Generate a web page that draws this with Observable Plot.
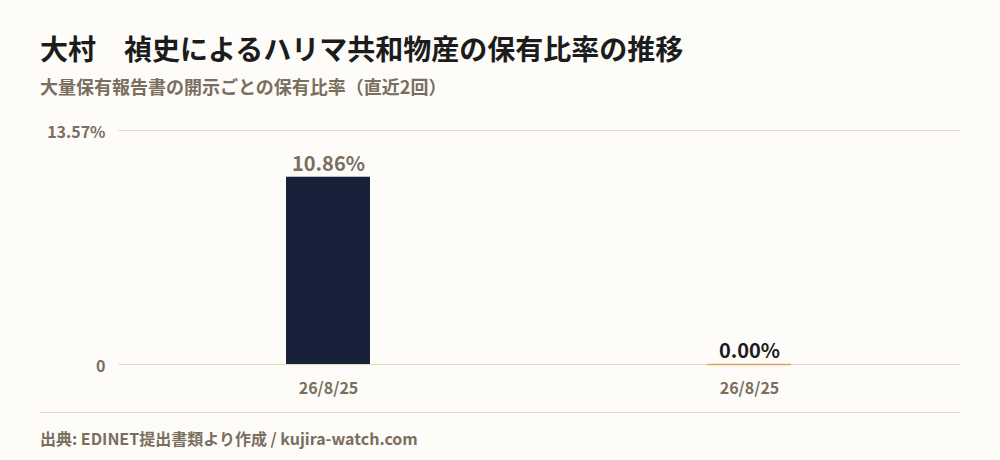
<!DOCTYPE html>
<html lang="ja">
<head>
<meta charset="utf-8">
<script src="https://cdn.jsdelivr.net/npm/d3@7"></script>
<script src="https://cdn.jsdelivr.net/npm/@observablehq/plot@0.6"></script>
<style>
  html, body { margin: 0; padding: 0; background: #fdfcf8; }
  body { width: 1000px; height: 460px; position: relative; overflow: hidden;
         font-family: "Noto Sans CJK JP", "Noto Sans", sans-serif; }
  #title { position: absolute; left: 40px; top: 28px; font-size: 28px; font-weight: 700; color: #1c1c1c; line-height: 40px; }
  #subtitle { position: absolute; left: 40px; top: 73px; font-size: 18px; font-weight: 700; color: #7a6e5e; line-height: 26px; }
  #chart { position: absolute; left: 0; top: 100px; }
  #rule { position: absolute; left: 40px; top: 412px; width: 920px; height: 1px; background: #e6dac4; }
  #caption { position: absolute; left: 40px; top: 426px; font-size: 16px; font-weight: 700; color: #7a6e5e; line-height: 24px; }
  #chart svg text { font-family: "Noto Sans CJK JP", "Noto Sans", sans-serif; }
</style>
</head>
<body>
<div id="title">大村　禎史によるハリマ共和物産の保有比率の推移</div>
<div id="subtitle">大量保有報告書の開示ごとの保有比率（直近2回）</div>
<div id="chart"></div>
<div id="rule"></div>
<div id="caption">出典: EDINET提出書類より作成 / kujira-watch.com</div>
<script>
const ids = ["r1", "r2"];
const dates = ["26/8/25", "26/8/25"];
const ratios = [10.86, 0.00];
const barColors = ["#17223a", "#d9a35b"];
const labelColors = ["#7a6e5e", "#1c1c1c"];
const yMax = 13.57;
const yTicks = [0, 13.57];

const data = ids.map((id, i) => ({id, date: dates[i], ratio: ratios[i], fill: barColors[i], lc: labelColors[i]}));
const dateById = Object.fromEntries(ids.map((id, i) => [id, dates[i]]));

const chart = Plot.plot({
  width: 1000,
  height: 305,
  marginTop: 30,
  marginBottom: 41,
  marginLeft: 118,
  marginRight: 40,
  style: { background: "transparent", fontSize: "16px", fontFamily: "'Noto Sans CJK JP', 'Noto Sans', sans-serif" },
  x: { domain: ids, paddingInner: 0.8, paddingOuter: 0.4, label: null },
  y: { domain: [0, yMax], label: null },
  marks: [
    Plot.ruleY(yTicks, { stroke: "#e8dcc4", strokeWidth: 1 }),
    Plot.barY(data, { x: "id", y: "ratio", fill: "fill" }),
    Plot.tickY(data.filter(d => d.ratio === 0), { x: "id", y: "ratio", stroke: "fill", strokeWidth: 1.5 }),
    Plot.text(data, { x: "id", y: "ratio", text: d => d.ratio.toFixed(2) + "%", dy: -13, fill: "lc",
      fontSize: 20, fontWeight: 600 }),
    Plot.axisX({ tickSize: 0, tickPadding: 18, tickFormat: d => dateById[d], fontSize: 16, fontWeight: 700, fill: "#7a6e5e" }),
    Plot.axisY({ ticks: yTicks, tickSize: 0, tickPadding: 13, dy: 2, tickFormat: d => d === 0 ? "0" : d.toFixed(2) + "%",
      fontSize: 16, fontWeight: 700, fill: "#7a6e5e" })
  ]
});
document.getElementById("chart").appendChild(chart);
</script>
</body>
</html>
